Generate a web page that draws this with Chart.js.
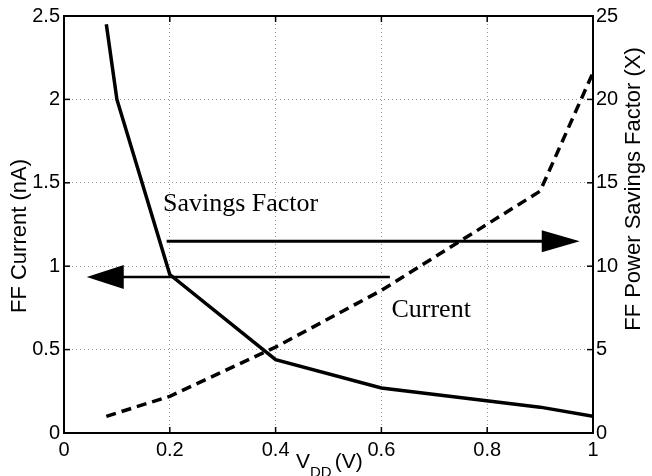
<!DOCTYPE html>
<html>
<head>
<meta charset="utf-8">
<script src="https://cdn.jsdelivr.net/npm/chart.js@4"></script>
<style>
  html, body { margin: 0; padding: 0; background: #fff; }
  #wrap { width: 652px; height: 476px; position: relative; }
</style>
</head>
<body>
<div id="wrap"><canvas id="ffChart"></canvas></div>
<script>
// data
const currentV = [0.08, 0.1, 0.2, 0.4, 0.6, 0.9, 1.0];
const currentNA = [2.45, 2.0, 0.95, 0.44, 0.27, 0.155, 0.10];
const savingsV = [0.08, 0.2, 0.4, 0.6, 0.9, 1.0];
const savingsX = [1.0, 2.2, 5.15, 8.55, 14.5, 21.6];

const xTicks = [0, 0.2, 0.4, 0.6, 0.8, 1];
const xTickLabels = ['0', '0.2', '0.4', '0.6', '0.8', '1'];
const yTicks = [0, 0.5, 1, 1.5, 2, 2.5];
const yTickLabels = ['0', '0.5', '1', '1.5', '2', '2.5'];
const y2Ticks = [0, 5, 10, 15, 20, 25];
const y2TickLabels = ['0', '5', '10', '15', '20', '25'];

const SANS = '"Liberation Sans", Arial, Helvetica, sans-serif';
const SERIF = '"Liberation Serif", "Times New Roman", serif';

function toPoints(xs, ys) {
    return xs.map((v, i) => ({ x: v, y: ys[i] }));
}

function fixedTicks(values) {
    return function(scale) {
        scale.ticks = values.map(v => ({ value: v }));
    };
}

// arrows + labels + matlab-style box
const annotate = {
    id: 'annotate',
    afterDatasetsDraw(chart) {
        const { ctx, chartArea: a, scales: { x, y, y2 } } = chart;
        ctx.save();

        function line(x1, y1, x2, y2_) {
            ctx.beginPath();
            ctx.moveTo(x1, y1);
            ctx.lineTo(x2, y2_);
            ctx.stroke();
        }

        function arrow(fromX, toX, atY, width, headLen, headHalf) {
            const px1 = x.getPixelForValue(fromX);
            const px2 = x.getPixelForValue(toX);
            const py = y.getPixelForValue(atY);
            const dir = px2 > px1 ? 1 : -1;
            ctx.lineWidth = width;
            ctx.lineCap = 'butt';
            line(px1, py, px2 - dir * headLen * 0.9, py);
            ctx.beginPath();
            ctx.moveTo(px2, py);
            ctx.lineTo(px2 - dir * headLen, py - headHalf);
            ctx.lineTo(px2 - dir * headLen, py + headHalf);
            ctx.closePath();
            ctx.fill();
        }

        ctx.strokeStyle = '#000';
        ctx.fillStyle = '#000';

        // box
        ctx.lineWidth = 2;
        ctx.strokeRect(a.left, a.top, a.right - a.left, a.bottom - a.top);

        // inward ticks
        ctx.lineWidth = 1.5;
        xTicks.forEach(v => {
            const px = x.getPixelForValue(v);
            line(px, a.bottom, px, a.bottom - 6);
            line(px, a.top, px, a.top + 6);
        });
        yTicks.forEach(v => {
            const py = y.getPixelForValue(v);
            line(a.left, py, a.left + 6, py);
        });
        y2Ticks.forEach(v => {
            const py = y2.getPixelForValue(v);
            line(a.right, py, a.right - 6, py);
        });

        // arrows pointing to the axis each curve belongs to
        arrow(0.194, 0.975, 1.15, 3, 38, 11);
        arrow(0.616, 0.043, 0.935, 2.6, 37, 12);

        ctx.font = '26px ' + SERIF;
        ctx.textBaseline = 'alphabetic';
        ctx.textAlign = 'left';
        ctx.fillText('Savings Factor', x.getPixelForValue(0.187), y.getPixelForValue(1.328));
        ctx.fillText('Current', x.getPixelForValue(0.619), y.getPixelForValue(0.694));

        // axis titles
        ctx.font = '22px ' + SANS;
        ctx.textAlign = 'center';
        ctx.textBaseline = 'middle';
        ctx.save();
        ctx.translate(20, 236);
        ctx.rotate(-Math.PI / 2);
        ctx.fillText('FF Current (nA)', 0, 0);
        ctx.restore();
        ctx.save();
        ctx.translate(634, 189);
        ctx.rotate(-Math.PI / 2);
        ctx.fillText('FF Power Savings Factor (X)', 0, 0);
        ctx.restore();

        // V_DD (V)
        ctx.textAlign = 'left';
        ctx.textBaseline = 'alphabetic';
        let tx = 296;
        ctx.font = '21px ' + SANS;
        ctx.fillText('V', tx, 468);
        tx += ctx.measureText('V').width;
        ctx.font = '15px ' + SANS;
        ctx.fillText('DD', tx, 477);
        tx += ctx.measureText('DD').width + 3;
        ctx.font = '21px ' + SANS;
        ctx.fillText('(V)', tx, 468);

        ctx.restore();
    }
};

const ctx = document.getElementById('ffChart').getContext('2d');
new Chart(ctx, {
    type: 'line',
    data: {
        datasets: [{
            label: 'Current',
            data: toPoints(currentV, currentNA),
            yAxisID: 'y',
            borderColor: '#000',
            borderWidth: 3.5,
            pointRadius: 0,
            tension: 0,
            fill: false
        }, {
            label: 'Savings Factor',
            data: toPoints(savingsV, savingsX),
            yAxisID: 'y2',
            borderColor: '#000',
            borderWidth: 3.5,
            borderDash: [10, 6],
            borderCapStyle: 'butt',
            pointRadius: 0,
            tension: 0,
            fill: false
        }]
    },
    options: {
        responsive: true,
        maintainAspectRatio: false,
        animation: false,
        layout: { padding: { top: 15, left: 0, right: 0, bottom: 0 } },
        plugins: { legend: { display: false }, tooltip: { enabled: false } },
        scales: {
            x: {
                type: 'linear',
                min: 0, max: 1,
                afterBuildTicks: fixedTicks(xTicks),
                afterFit(scale) { scale.height = 43; },
                grid: { color: '#999', lineWidth: 1, drawTicks: false },
                border: { display: false, dash: [1, 3] },
                ticks: {
                    padding: 5,
                    color: '#000',
                    font: { family: SANS, size: 20 },
                    maxRotation: 0,
                    callback: (v, i) => xTickLabels[i]
                }
            },
            y: {
                type: 'linear',
                position: 'left',
                min: 0, max: 2.5,
                afterBuildTicks: fixedTicks(yTicks),
                afterFit(scale) { scale.width = 64; },
                grid: { color: '#999', lineWidth: 1, drawTicks: false },
                border: { display: false, dash: [1, 3] },
                ticks: {
                    padding: 4,
                    color: '#000',
                    font: { family: SANS, size: 20 },
                    callback: (v, i) => yTickLabels[i]
                }
            },
            y2: {
                type: 'linear',
                position: 'right',
                min: 0, max: 25,
                afterBuildTicks: fixedTicks(y2Ticks),
                afterFit(scale) { scale.width = 59; },
                grid: { display: false, drawTicks: false },
                border: { display: false },
                ticks: {
                    padding: 3,
                    color: '#000',
                    font: { family: SANS, size: 20 },
                    callback: (v, i) => y2TickLabels[i]
                }
            }
        }
    },
    plugins: [annotate]
});
</script>
</body>
</html>
